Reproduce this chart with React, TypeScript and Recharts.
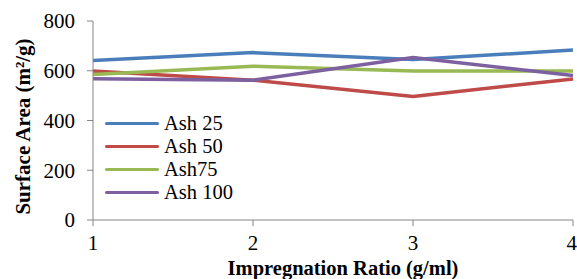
import React from 'react';
import { LineChart, Line, XAxis, YAxis, Legend } from 'recharts';

const ratios = [1, 2, 3, 4];
const ash25 = [641, 673, 645, 683];
const ash50 = [599, 562, 497, 567];
const ash75 = [585, 618, 599, 599];
const ash100 = [568, 562, 653, 581];
const yTicks = [0, 200, 400, 600, 800];

const seriesNames = ['Ash 25', 'Ash 50', 'Ash75', 'Ash 100'];
const seriesKeys = ['ash25', 'ash50', 'ash75', 'ash100'];
const seriesColors = ['#4A7EBB', '#BE4B48', '#98B954', '#7D60A0'];

const data = ratios.map((r, i) => ({
  ratio: r,
  ash25: ash25[i],
  ash50: ash50[i],
  ash75: ash75[i],
  ash100: ash100[i],
}));

const FONT = '"Liberation Serif", "Times New Roman", serif';
const FS = 21;

const LegendContent = () => (
  <div style={{ fontFamily: FONT, fontSize: 20.5, color: '#000' }}>
    {seriesNames.map((n, i) => (
      <div key={n} style={{ display: 'flex', alignItems: 'center', height: 23 }}>
        <div style={{ width: 54, height: 3.5, background: seriesColors[i], borderRadius: 2, marginRight: 5 }} />
        <span style={{ lineHeight: '23px' }}>{n}</span>
      </div>
    ))}
  </div>
);

export default function App() {
  return (
    <div style={{ position: 'absolute', left: 0, top: 0, width: 577, height: 279, background: '#fff' }}>
      <LineChart width={577} height={279} data={data} margin={{ top: 21, right: 4, bottom: 0, left: 0 }}>
        <XAxis
          dataKey="ratio"
          type="number"
          domain={[1, 4]}
          ticks={ratios}
          stroke="#868686"
          tickSize={6}
          tickMargin={9}
          height={59}
          tick={{ fill: '#000', fontFamily: FONT, fontSize: FS }}
          label={{ value: 'Impregnation Ratio (g/ml)', position: 'insideBottom', offset: 4.5, dx: 10, style: { fill: '#000', fontFamily: FONT, fontSize: 20.5, fontWeight: 'bold' } }}
        />
        <YAxis
          domain={[0, 800]}
          ticks={yTicks}
          stroke="#868686"
          tickSize={6}
          tickMargin={12}
          width={93}
          tick={{ fill: '#000', fontFamily: FONT, fontSize: FS }}
          label={{ value: 'Surface Area (m²/g)', angle: -90, position: 'center', dx: -24, dy: 6, style: { fill: '#000', fontFamily: FONT, fontSize: FS, fontWeight: 'bold', textAnchor: 'middle' } }}
        />
        <Legend
          layout="vertical"
          align="center"
          verticalAlign="middle"
          content={<LegendContent />}
          wrapperStyle={{ position: 'absolute', left: 105, top: 112, width: 'auto' }}
        />
        {seriesKeys.map((k, i) => (
          <Line
            key={k}
            dataKey={k}
            name={seriesNames[i]}
            stroke={seriesColors[i]}
            strokeWidth={3.5}
            dot={false}
            isAnimationActive={false}
          />
        ))}
      </LineChart>
    </div>
  );
}
